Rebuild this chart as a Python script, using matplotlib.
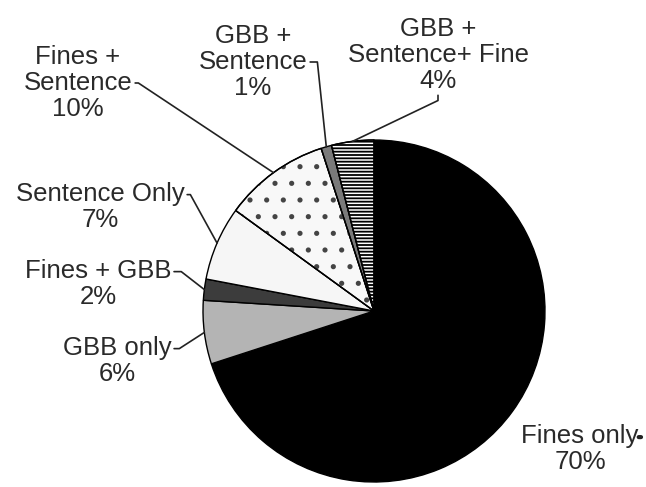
import numpy as np
import matplotlib.pyplot as plt
from matplotlib.patches import Wedge

# data
labels = ["Fines only", "GBB only", "Fines + GBB", "Sentence Only",
          "Fines + Sentence", "GBB + Sentence", "GBB + Sentence+ Fine"]
shares = [70, 6, 2, 7, 10, 1, 4]
label_text = ["Fines only\n70%", "GBB only\n6%", "Fines + GBB\n2%",
              "Sentence Only\n7%", "Fines +\nSentence\n10%",
              "GBB +\nSentence\n1%", "GBB +\nSentence+ Fine\n4%"]

colors = ["#000000", "#b4b4b4", "#3c3c3c", "#f6f6f6", "#f8f8f8", "#7a7a7a", "#ffffff"]
hatches = [None, None, None, None, ".", None, "-----"]
hatch_cols = [None, None, None, None, "#444444", None, "#000000"]

# label placement (pixel coords, y from top), anchor on text box, arm direction
label_pos = [(580, 449), (117, 361), (98, 284), (100, 207), (78, 83), (253, 62), (438, 55)]
rel_pos = [(1.0, 0.75), (1.0, 0.75), (1.0, 0.75), (1.0, 0.75), (1.0, 0.5), (1.0, 0.5), (0.5, 0.0)]
arm_angle = [0, 0, 0, 0, 0, 0, -90]
arm_len = [2, 8, 10, 6, 6, 10, 8]

W, H = 646, 487
cx, cy, R = 374, H - 311, 171

plt.rcParams["hatch.linewidth"] = 1.3

fig = plt.figure(figsize=(W / 100, H / 100), dpi=100)
ax = fig.add_axes([0, 0, 1, 1])

wedges, _ = ax.pie(shares, colors=colors, startangle=90, counterclock=False,
                   radius=R, center=(cx, cy),
                   wedgeprops=dict(edgecolor="black", linewidth=1.0))

# overlay hatch patterns, then outline again on top
for w, h, hc in zip(wedges, hatches, hatch_cols):
    if h is None:
        continue
    ax.add_patch(Wedge((cx, cy), R, w.theta1, w.theta2, fill=False, hatch=h,
                       edgecolor=hc, linewidth=0))
    ax.add_patch(Wedge((cx, cy), R, w.theta1, w.theta2, fill=False,
                       edgecolor="black", linewidth=1.0))

txt_kw = dict(ha="center", va="center", fontsize=18.5, color="#2a2a2a",
              family="Liberation Sans", linespacing=1.08)

for i, w in enumerate(wedges):
    tx, ty = label_pos[i]
    if i == 0:
        # "Fines only" has just a tiny tick, no leader into the pie
        t = ax.text(tx, H - ty, label_text[i], **txt_kw)
        ax.annotate("", xy=(1.02, 0.74), xycoords=t, xytext=(1.0, 0.74), textcoords=t,
                    arrowprops=dict(arrowstyle="-", color="#222222", lw=3,
                                    shrinkA=0, shrinkB=0))
        continue
    mid = np.deg2rad((w.theta1 + w.theta2) / 2)
    px = cx + R * np.cos(mid)
    py = cy + R * np.sin(mid)
    ax.annotate(label_text[i], xy=(px, py), xytext=(tx, H - ty), **txt_kw,
                arrowprops=dict(arrowstyle="-", color="#222222", lw=1.2,
                                shrinkA=0, shrinkB=0, relpos=rel_pos[i],
                                connectionstyle="arc,angleA=%d,angleB=0,armA=%d,armB=0,rad=0"
                                % (arm_angle[i], arm_len[i])))

ax.set_xlim(0, W)
ax.set_ylim(0, H)
ax.set_aspect("equal")
ax.axis("off")

fig.savefig("out.png", dpi=100)
